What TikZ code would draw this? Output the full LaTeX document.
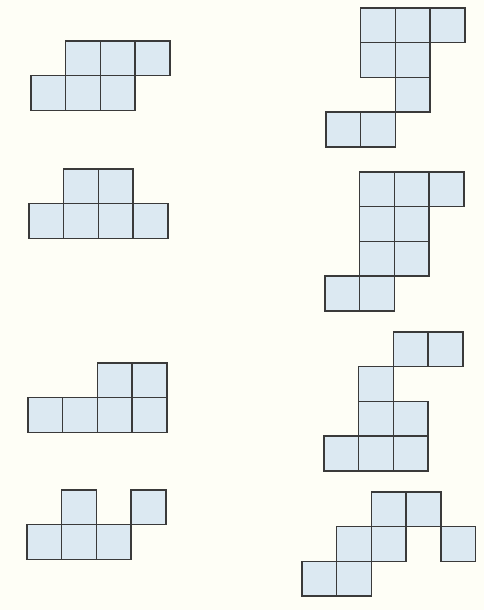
\documentclass[tikz,border=0pt]{standalone}
\usepackage{tikz}
\definecolor{bgcream}{HTML}{FEFEF6}
\definecolor{cellfill}{HTML}{DCE9F2}
\definecolor{cellline}{HTML}{3A3A3A}
\tikzset{cellbox/.style={fill=cellfill,draw=cellline,line width=1.4pt,line join=miter}}
\newcommand\polyo[3]{\foreach \c/\r in {#3} {\filldraw[cellbox] ({#1+\c*34.7},{-(#2+\r*34.7)}) rectangle ++(34.7,-34.7);}}
\begin{document}
\begin{tikzpicture}[x=1pt,y=1pt]
\useasboundingbox (0,0) rectangle (484,-610);
\fill[bgcream] (0,0) rectangle (484,-610);
% left column
\polyo{31}{41}{1/0,2/0,3/0,0/1,1/1,2/1}
\polyo{29}{169}{1/0,2/0,0/1,1/1,2/1,3/1}
\polyo{28}{363}{2/0,3/0,0/1,1/1,2/1,3/1}
\polyo{27}{490}{1/0,3/0,0/1,1/1,2/1}
% right column
\polyo{326}{8}{1/0,2/0,3/0,1/1,2/1,2/2,0/3,1/3}
\polyo{325}{172}{1/0,2/0,3/0,1/1,2/1,1/2,2/2,0/3,1/3}
\polyo{324}{332}{2/0,3/0,1/1,1/2,2/2,0/3,1/3,2/3}
\polyo{302}{492}{2/0,3/0,1/1,2/1,4/1,0/2,1/2}
\end{tikzpicture}
\end{document}
